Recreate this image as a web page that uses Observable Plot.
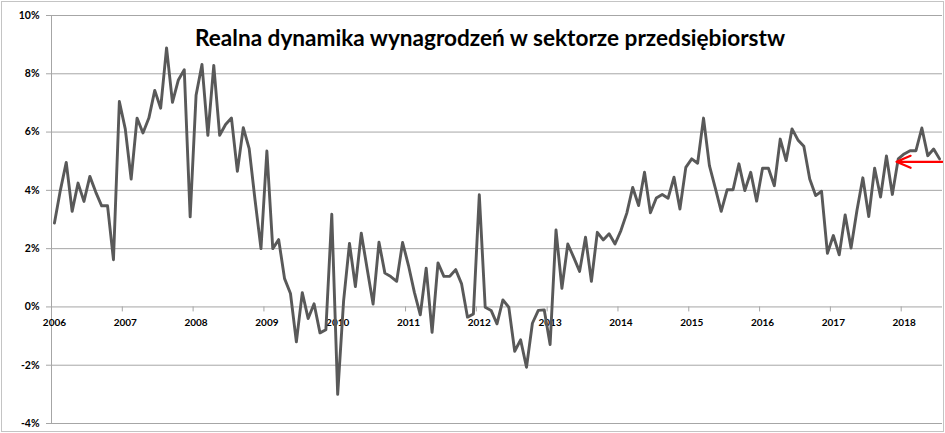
<!DOCTYPE html>
<html><head><meta charset="utf-8">
<script src="https://cdn.jsdelivr.net/npm/d3@7"></script>
<script src="https://cdn.jsdelivr.net/npm/@observablehq/plot@0.6"></script>
<style>
html,body{margin:0;padding:0;background:#fff;}
#chart svg{display:block;outline:1px solid #c4c4c4;outline-offset:-2px;}
</style></head><body><div id="chart"></div>
<script>
const title = "Realna dynamika wynagrodzeń w sektorze przedsiębiorstw";
// monthly values (%), Jan 2006 .. Jul 2018
const v2006 = [2.88, 4.0, 4.96, 3.28, 4.25, 3.62, 4.48, 3.94, 3.47, 3.47, 1.62, 7.05];
const v2007 = [6.11, 4.39, 6.48, 5.97, 6.48, 7.43, 6.82, 8.89, 7.02, 7.79, 8.14, 3.09];
const v2008 = [7.26, 8.32, 5.89, 8.29, 5.89, 6.26, 6.48, 4.65, 6.15, 5.43, 3.66, 2.0];
const v2009 = [5.35, 2.0, 2.31, 0.97, 0.46, -1.2, 0.49, -0.4, 0.11, -0.89, -0.78, 3.18];
const v2010 = [-3.0, 0.2, 2.18, 0.70, 2.53, 1.3, 0.1, 2.22, 1.16, 1.04, 0.88, 2.21];
const v2011 = [1.42, 0.5, -0.27, 1.33, -0.87, 1.51, 1.05, 1.05, 1.28, 0.79, -0.35, -0.24];
const v2012 = [3.85, -0.01, -0.12, -0.58, 0.24, -0.01, -1.52, -1.13, -2.07, -0.56, -0.12, -0.10];
const v2013 = [-1.29, 2.64, 0.64, 2.16, 1.70, 1.22, 2.39, 0.88, 2.56, 2.30, 2.51, 2.16];
const v2014 = [2.62, 3.22, 4.1, 3.48, 4.62, 3.23, 3.74, 3.86, 3.73, 4.45, 3.36, 4.79];
const v2015 = [5.08, 4.93, 6.48, 4.85, 4.08, 3.28, 4.02, 4.02, 4.91, 3.99, 4.62, 3.63];
const v2016 = [4.76, 4.76, 4.16, 5.76, 5.02, 6.11, 5.73, 5.51, 4.39, 3.82, 3.97, 1.84];
const v2017 = [2.45, 1.79, 3.16, 2.02, 3.31, 4.43, 3.10, 4.76, 3.77, 5.18, 3.86, 5.08];
const v2018 = [5.25, 5.36, 5.36, 6.14, 5.19, 5.42, 5.08];
const yearLabels = ["2006","2007","2008","2009","2010","2011","2012","2013","2014","2015","2016","2017","2018"];
const yTicks = [-4, -2, 0, 2, 4, 6, 8, 10];
// red arrow: level (%) and month positions (index)
const arrowLevel = 4.98;
const arrowFrom = 150.5;
const arrowTo = 142.7;

const values = [...v2006, ...v2007, ...v2008, ...v2009, ...v2010, ...v2011, ...v2012,
  ...v2013, ...v2014, ...v2015, ...v2016, ...v2017, ...v2018];
const data = values.map((v, i) => ({i, v}));
const yearStart = yearLabels.map((_, k) => k * 12);
const yearBoundary = yearStart.map(d => d - 0.5);
const xDomain = [-0.5, values.length - 0.5];

const grid = "#a6a6a6";
const chart = Plot.plot({
  width: 945, height: 433,
  marginLeft: 51, marginRight: 3, marginTop: 15, marginBottom: 10,
  style: {background: "#fff", fontFamily: "Lato, sans-serif", fontWeight: "bold", color: "#000"},
  x: {domain: xDomain, axis: null},
  y: {domain: [-4, 10], axis: null},
  marks: [
    Plot.gridY(yTicks, {stroke: grid, strokeOpacity: 1, strokeWidth: 1}),
    Plot.ruleX([xDomain[0]], {stroke: grid, strokeWidth: 1}),
    Plot.axisY(yTicks, {tickFormat: d => d + "%", tickSize: 5, tickPadding: 7, fontSize: 10.5, stroke: grid, fill: "#000"}),
    Plot.ruleX(yearBoundary, {x: d => d, y1: 0, y2: 0, insetTop: 0, insetBottom: -5, stroke: grid}),
    Plot.text(yearLabels, {x: (d, k) => yearStart[k], y: () => 0, dy: 16, fontSize: 10, fill: "#000"}),
    Plot.line(data, {x: "i", y: "v", stroke: "#595959", strokeWidth: 2.9, strokeLinejoin: "round"}),
    Plot.arrow([{x1: arrowFrom, x2: arrowTo, y: arrowLevel}], {x1: "x1", x2: "x2", y1: "y", y2: "y", stroke: "#ff0000", strokeWidth: 2.2, headAngle: 46, headLength: 16}),
    Plot.text([title], {frameAnchor: "top", dy: 14, dx: -7, fontSize: 22.6, fontWeight: "bold", fill: "#000"})
  ]
});
document.getElementById("chart").appendChild(chart);
</script></body></html>
